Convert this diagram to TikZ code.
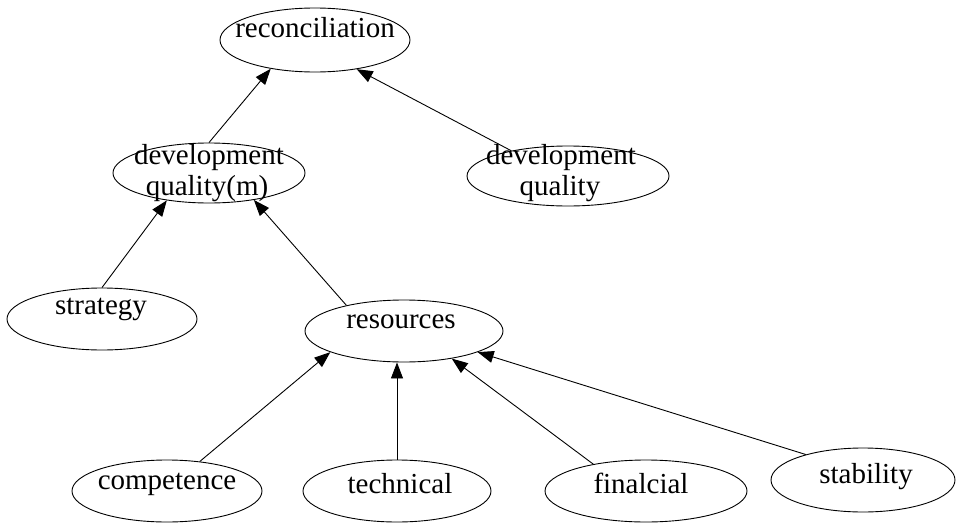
\documentclass[tikz,border=0pt]{standalone}
\usepackage{fontspec}
\setmainfont{Liberation Serif}
\usetikzlibrary{shapes.geometric,arrows.meta}
\begin{document}
\begin{tikzpicture}[x=1pt,y=-1pt,
  oval/.style={draw,ellipse,line width=0.9pt,inner sep=0pt},
  word/.style={anchor=base,inner sep=0pt,font=\fontsize{29}{30}\selectfont},
  link/.style={line width=0.9pt,-{Triangle[length=16pt,width=12pt]}}]
\fill[white] (0,0) rectangle (956,525);
\useasboundingbox (0,0) rectangle (956,525);

% ovals
\node[oval,minimum width=190pt,minimum height=64pt] (recon) at (315,40) {};
\node[oval,minimum width=192pt,minimum height=60pt] (devm) at (209,173) {};
\node[oval,minimum width=202pt,minimum height=60pt] (devq) at (568,176) {};
\node[oval,minimum width=190pt,minimum height=62pt] (strat) at (102,319) {};
\node[oval,minimum width=198pt,minimum height=62pt] (res) at (404,331) {};
\node[oval,minimum width=190pt,minimum height=62pt] (comp) at (167,491) {};
\node[oval,minimum width=188pt,minimum height=62pt] (tech) at (397,491) {};
\node[oval,minimum width=202pt,minimum height=62pt] (fin) at (646,491) {};
\node[oval,minimum width=184pt,minimum height=64pt] (stab) at (863,480) {};

% labels
\node[word] (reconT) at (315,37) {reconciliation};
\node[word] (devmA) at (209,164) {development};
\node[word] (devmB) at (207,195) {quality(m)};
\node[word] (devqA) at (561,164) {development};
\node[word] (devqB) at (560,195) {quality};
\node[word] (stratT) at (101,314) {strategy};
\node[word] (resT) at (401,328) {resources};
\node[word] (compT) at (167,489) {competence};
\node[word] (techT) at (400,493) {technical};
\node[word] (finT) at (641,493) {finalcial};
\node[word] (stabT) at (866,483) {stability};

% links
\draw[link] (devm.north) -- (recon.213);
\draw[link] (devq.156) -- (recon.325);
\draw[link] (strat.north) -- (devm.213);
\draw[link] (res.156) -- (devm.329);
\draw[link] (comp.42) -- (res.196);
\draw[link] (tech.north) -- (tech.north |- res.south);
\draw[link] (fin.153) -- (res.330);
\draw[link] (stab.156) -- (res.344);
\end{tikzpicture}
\end{document}
